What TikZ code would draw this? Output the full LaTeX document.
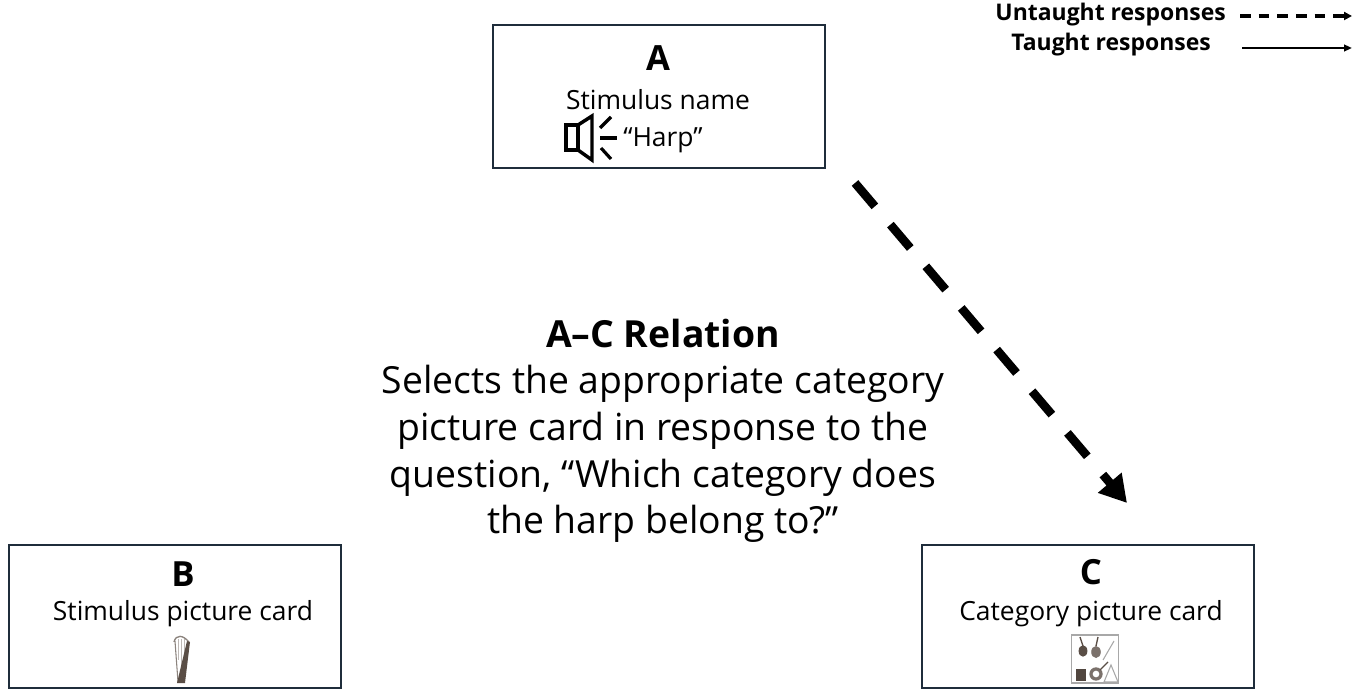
\documentclass[tikz,border=0pt]{standalone}
\usepackage{fontspec}
\setmainfont{Open Sans}
\usetikzlibrary{arrows.meta}
\definecolor{boxc}{HTML}{1F2D3B}
\definecolor{harpc}{HTML}{5A4E46}
\definecolor{picgray}{HTML}{A8A8A8}
\begin{document}
\begin{tikzpicture}[x=0.75pt,y=-0.75pt,
  card/.style={draw=boxc,line width=1.5pt,minimum width=249pt,minimum height=107.5pt,inner sep=0pt},
  letter/.style={font=\bfseries\fontsize{26}{30}\selectfont,inner sep=0pt},
  cardtext/.style={font=\fontsize{19.8}{24}\selectfont,inner sep=0pt},
  midtext/.style={font=\fontsize{28}{35}\selectfont,align=center,inner sep=0pt},
  legtext/.style={font=\bfseries\fontsize{17.2}{20}\selectfont,inner sep=0pt,anchor=east}]
\useasboundingbox (0,0) rectangle (1356,695);

% cards
\node[card] (A) at (658.5,96.5) {};
\node[card] (B) at (175,616.5) {};
\node[card] (C) at (1088,616.5) {};

% card A contents
\node[letter] (Aletter) at (658,58) {A};
\node[cardtext] (Aname) at (658,100) {Stimulus name};
\node[cardtext,anchor=west] (Aharp) at (623,140) {``Harp''};
% speaker icon
\draw[line width=2.6pt,line join=miter] (566,125) rectangle (578,150);
\draw[line width=2.6pt,line join=miter] (578,125) -- (592,116) -- (592,160) -- (578,150);
\draw[line width=2.4pt] (600,128) -- (611,117);
\draw[line width=2.4pt] (600,138) -- (617,138);
\draw[line width=2.4pt] (601,148) -- (611,159);

% card B contents
\node[letter] (Bletter) at (183,574) {B};
\node[cardtext] (Bname) at (183,614) {Stimulus picture card};
% harp picture
\draw[harpc!70,line width=1pt] (174,642) .. controls (176,634) and (183,635) .. (189,642);
\draw[harpc!70,line width=0.8pt] (175,641) .. controls (176,655) and (177,668) .. (178,682);
\foreach \xx/\yy in {178/660,181/668,184/676}
  \draw[harpc!40,line width=0.3pt] (\xx,639) -- (\xx,\yy);
\fill[harpc] (187,641) -- (190,642) -- (185,683) -- (177,683) -- cycle;

% card C contents
\node[letter] (Cletter) at (1091,572) {C};
\node[cardtext] (Cname) at (1091,614) {Category picture card};
% category picture
\node[draw=picgray,line width=0.8pt,minimum width=35pt,minimum height=36pt,inner sep=0pt] (Cpic) at (1095,659) {};
% instruments
\fill[harpc] (1083,651) ellipse (3.3pt and 4.3pt);
\draw[harpc,line width=1pt] (1083,646) -- (1080,637);
\fill[harpc!80] (1096,652) ellipse (3.6pt and 4.5pt);
\draw[harpc,line width=1pt] (1096,646) -- (1098,637);
\draw[picgray,line width=0.8pt] (1103,660) -- (1114,641);
\fill[harpc!90!black] (1076,669) rectangle (1086,681);
\fill[harpc!80] (1096,674) circle (5pt);
\fill[white] (1096,674) circle (2.5pt);
\draw[harpc,line width=1pt] (1100,670) -- (1108,662);
\draw[picgray,line width=0.8pt] (1104,682) -- (1111,665) -- (1118,682) -- cycle;

% middle text
\node[font=\bfseries\fontsize{28}{32}\selectfont,inner sep=0pt] (title) at (663,333) {A–C Relation};
\node[midtext] (body) at (663,454) {Selects the appropriate category\\picture card in response to the\\question, “Which category does\\the harp belong to?”};

% arrow A -> C (untaught)
\coordinate (s) at (855,183);
\coordinate (e) at (1127,503);
\draw[line width=6.5pt,dash pattern=on 23pt off 18pt,-{Triangle[length=20pt,width=22pt]}] (s) -- (e);

% legend
\node[legtext] (untaught) at (1226,15) {Untaught responses};
\node[legtext] (taught) at (1211,45) {Taught responses};
\coordinate (u1) at (1240,16);
\coordinate (u2) at (1352,16);
\coordinate (t1) at (1242,48);
\coordinate (t2) at (1352,48);
\draw[line width=2.4pt,dash pattern=on 8pt off 6pt,-{Triangle[length=6pt,width=6pt]}] (u1) -- (u2);
\draw[line width=1.5pt,-{Triangle[length=6pt,width=5pt]}] (t1) -- (t2);
\end{tikzpicture}
\end{document}
